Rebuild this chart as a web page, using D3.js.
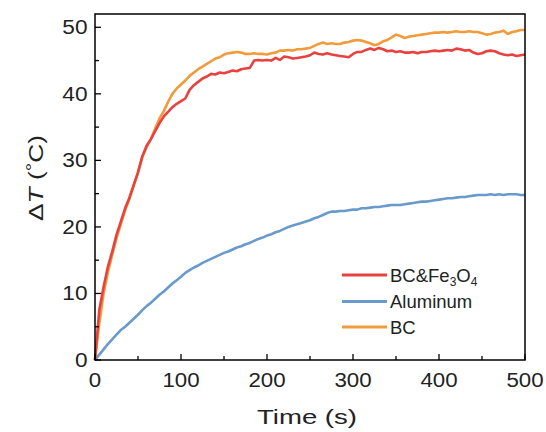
<!DOCTYPE html>
<html><head><meta charset="utf-8">
<script src="https://cdn.jsdelivr.net/npm/d3@7"></script>
<style>body{margin:0;background:#fff;} svg{display:block;font-family:"Liberation Sans",Arial,sans-serif;}</style>
</head><body>
<svg id="c" width="546" height="432"></svg>
<script>
const times = [0,5,10,15,20,25,30,35,40,45,50,55,60,65,70,75,80,85,90,95,100,105,110,115,120,125,130,135,140,145,150,155,160,165,170,175,180,185,190,195,200,205,210,215,220,225,230,235,240,245,250,255,260,265,270,275,280,285,290,295,300,305,310,315,320,325,330,335,340,345,350,355,360,365,370,375,380,385,390,395,400,405,410,415,420,425,430,435,440,445,450,455,460,465,470,475,480,485,490,495,500];
const bcFe = [0,7.5,11,14,16.3,18.8,20.8,22.8,24.4,26.3,28.2,30.6,32.2,33.2,34.4,35.6,36.6,37.3,38,38.5,38.9,39.3,40.6,41.3,41.8,42.3,42.6,43.0,42.9,43.2,43.1,43.3,43.5,43.4,43.7,43.8,43.9,45.0,45.1,45.0,45.1,45.0,45.4,45.1,45.6,45.5,45.3,45.4,45.5,45.6,45.8,46.2,46.0,45.9,46.1,45.9,45.8,45.7,45.6,45.5,46.0,46.3,46.3,46.6,46.8,46.6,46.9,46.7,46.4,46.5,46.3,46.4,46.2,46.2,46.3,46.1,46.3,46.3,46.4,46.5,46.4,46.5,46.6,46.5,46.8,46.7,46.5,46.6,46.2,46.0,46.1,46.4,46.5,46.4,46.1,45.9,45.8,45.9,45.7,45.8,45.9];
const aluminum = [0,0.8,1.6,2.4,3.1,3.8,4.5,5.0,5.6,6.2,6.8,7.5,8.1,8.6,9.2,9.8,10.3,10.9,11.5,12.0,12.5,13.1,13.5,13.9,14.2,14.6,14.9,15.2,15.5,15.8,16.1,16.3,16.6,16.9,17.1,17.4,17.6,17.9,18.2,18.4,18.7,18.9,19.2,19.4,19.7,20.0,20.2,20.4,20.6,20.8,21.0,21.3,21.5,21.8,22.1,22.3,22.3,22.4,22.4,22.5,22.6,22.6,22.8,22.8,22.9,23.0,23.0,23.1,23.2,23.3,23.3,23.3,23.4,23.5,23.6,23.7,23.8,23.8,23.9,24.0,24.1,24.2,24.3,24.3,24.4,24.5,24.5,24.6,24.7,24.8,24.8,24.8,24.9,24.8,24.9,24.8,24.9,24.9,24.9,24.8,24.8];
const bc = [0,5.5,10,13.2,15.8,18.3,20.4,22.5,24.2,26.2,28.2,30.5,32.0,33.2,34.8,36.3,37.4,38.8,40.0,40.8,41.4,42.0,42.7,43.2,43.7,44.1,44.5,44.9,45.3,45.5,45.9,46.1,46.2,46.3,46.2,46.0,46.0,46.1,46.0,46.0,45.9,46.1,46.2,46.5,46.5,46.6,46.5,46.7,46.7,46.8,46.9,47.2,47.5,47.7,47.5,47.6,47.5,47.5,47.7,47.8,48.0,48.1,48.0,47.8,47.6,47.3,47.5,47.9,48.1,48.5,48.9,48.7,48.4,48.6,48.7,48.8,48.9,49.0,49.1,49.2,49.2,49.3,49.2,49.3,49.4,49.3,49.3,49.4,49.3,49.3,49.1,48.9,49.0,49.2,49.3,49.5,49.0,49.3,49.4,49.6,49.6];
const seriesNames = ["BC&Fe3O4","Aluminum","BC"];
const colors = ["#e8423f","#6a9acb","#f29b3b"];
const xTicks = [0,100,200,300,400,500];
const yTicks = [0,10,20,30,40,50];
const xMinor = [50,150,250,350,450];
const yMinor = [5,15,25,35,45];

const svg = d3.select("#c");
const L=95, R=525, T=14, B=360;
const x = d3.scaleLinear().domain([0,500]).range([L,R]);
const y = d3.scaleLinear().domain([0,52]).range([B,T]);

const line = d3.line().x((d,i)=>x(times[i])).y(d=>y(d));
const plotG = svg.append("g");
const order = [2,1,0];
const data = [bcFe, aluminum, bc];
order.forEach(k=>{
  plotG.append("path").datum(data[k]).attr("d",line)
    .attr("fill","none").attr("stroke",colors[k]).attr("stroke-width",2.6)
    .attr("stroke-linejoin","round");
});

// frame
svg.append("rect").attr("x",L).attr("y",T).attr("width",R-L).attr("height",B-T)
  .attr("fill","none").attr("stroke","#000").attr("stroke-width",1.5);

// ticks
const ax = svg.append("g");
xTicks.forEach(t=>ax.append("line").attr("x1",x(t)).attr("x2",x(t)).attr("y1",B).attr("y2",B-6).attr("stroke","#000").attr("stroke-width",1.3));
xMinor.forEach(t=>ax.append("line").attr("x1",x(t)).attr("x2",x(t)).attr("y1",B).attr("y2",B-4).attr("stroke","#000").attr("stroke-width",1.3));
yTicks.forEach(t=>ax.append("line").attr("x1",L).attr("x2",L+6).attr("y1",y(t)).attr("y2",y(t)).attr("stroke","#000").attr("stroke-width",1.3));
yMinor.forEach(t=>ax.append("line").attr("x1",L).attr("x2",L+4).attr("y1",y(t)).attr("y2",y(t)).attr("stroke","#000").attr("stroke-width",1.3));

xTicks.forEach(t=>{
  const s=String(t);
  ax.append("text").attr("x",x(t)).attr("y",387).attr("text-anchor","middle")
    .attr("font-size",19.5).attr("fill","#222").attr("textLength",12.4*s.length).attr("lengthAdjust","spacingAndGlyphs").text(s);
});
yTicks.forEach(t=>{
  const s=String(t);
  ax.append("text").attr("x",87.5).attr("y",y(t)+7).attr("text-anchor","end")
    .attr("font-size",19.5).attr("fill","#222").attr("textLength",12.6*s.length).attr("lengthAdjust","spacingAndGlyphs").text(s);
});

// axis titles
svg.append("text").attr("x",307).attr("y",423.5).attr("text-anchor","middle")
  .attr("font-size",21).attr("fill","#222").attr("textLength",100).attr("lengthAdjust","spacingAndGlyphs").text("Time (s)");
const yt = svg.append("text").attr("transform","translate(43,178) rotate(-90)").attr("text-anchor","middle")
  .attr("font-size",21).attr("fill","#222").attr("textLength",86).attr("lengthAdjust","spacingAndGlyphs");
yt.append("tspan").text("Δ");
yt.append("tspan").attr("font-style","italic").text("T");
yt.append("tspan").text(" (");
yt.append("tspan").attr("dy",-5).attr("font-size",17).text("°");
yt.append("tspan").attr("dy",5).text("C)");

// legend
const lg = svg.append("g");
const legY = [275,301.5,327];
[0,1,2].forEach(k=>{
  lg.append("line").attr("x1",342).attr("x2",387).attr("y1",legY[k]).attr("y2",legY[k])
    .attr("stroke",colors[k]).attr("stroke-width",3);
});
const t0 = lg.append("text").attr("x",390).attr("y",legY[0]+6.5).attr("font-size",18.5).attr("fill","#222");
t0.append("tspan").text("BC&Fe");
t0.append("tspan").attr("dy",4).attr("font-size",12).text("3");
t0.append("tspan").attr("dy",-4).text("O");
t0.append("tspan").attr("dy",4).attr("font-size",12).text("4");
lg.append("text").attr("x",390).attr("y",legY[1]+6.5).attr("font-size",18.5).attr("fill","#222").text(seriesNames[1]);
lg.append("text").attr("x",390).attr("y",legY[2]+6.5).attr("font-size",18.5).attr("fill","#222").text(seriesNames[2]);
</script>
</body></html>
